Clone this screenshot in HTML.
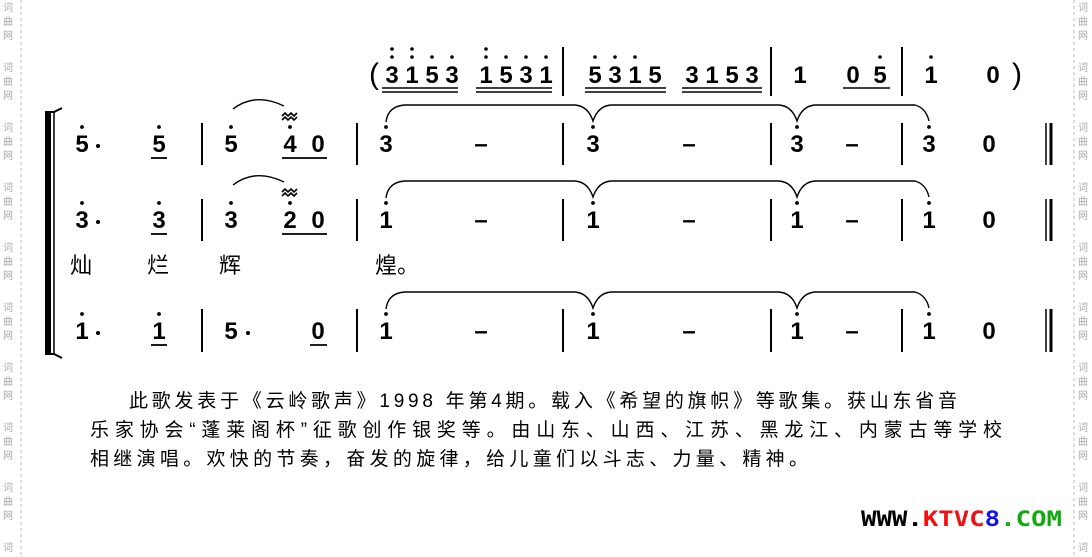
<!DOCTYPE html>
<html><head><meta charset="utf-8"><style>
html,body{margin:0;padding:0;background:#fff;}
svg{display:block;}
.n{font-family:"Liberation Sans",sans-serif;font-weight:bold;font-size:24px;fill:#000;text-anchor:middle;}
.w{font-family:"Liberation Sans","Noto Sans CJK SC",sans-serif;font-size:10px;fill:#aaa;text-anchor:middle;}
.l{font-family:"Liberation Sans","Noto Sans CJK SC",sans-serif;font-size:22px;fill:#000;}
.p{font-family:"Liberation Sans","Noto Sans CJK SC",sans-serif;font-size:19px;fill:#000;}
</style></head><body>
<svg width="1092" height="557" viewBox="0 0 1092 557" xmlns="http://www.w3.org/2000/svg">
<line x1="21" y1="0" x2="21" y2="557" stroke="#bbb" stroke-dasharray="3,3"/>
<line x1="1074" y1="0" x2="1074" y2="557" stroke="#bbb" stroke-dasharray="3,3"/>
<g class="w">
<text x="8" y="11">词</text><text x="8" y="25">曲</text><text x="8" y="39">网</text>
<text x="8" y="71">词</text><text x="8" y="85">曲</text><text x="8" y="99">网</text>
<text x="8" y="131">词</text><text x="8" y="145">曲</text><text x="8" y="159">网</text>
<text x="8" y="191">词</text><text x="8" y="205">曲</text><text x="8" y="219">网</text>
<text x="8" y="251">词</text><text x="8" y="265">曲</text><text x="8" y="279">网</text>
<text x="8" y="311">词</text><text x="8" y="325">曲</text><text x="8" y="339">网</text>
<text x="8" y="371">词</text><text x="8" y="385">曲</text><text x="8" y="399">网</text>
<text x="8" y="431">词</text><text x="8" y="445">曲</text><text x="8" y="459">网</text>
<text x="8" y="491">词</text><text x="8" y="505">曲</text><text x="8" y="519">网</text>
<text x="8" y="551">词</text>
<text x="1083" y="11">词</text><text x="1083" y="25">曲</text><text x="1083" y="39">网</text>
<text x="1083" y="71">词</text><text x="1083" y="85">曲</text><text x="1083" y="99">网</text>
<text x="1083" y="131">词</text><text x="1083" y="145">曲</text><text x="1083" y="159">网</text>
<text x="1083" y="191">词</text><text x="1083" y="205">曲</text><text x="1083" y="219">网</text>
<text x="1083" y="251">词</text><text x="1083" y="265">曲</text><text x="1083" y="279">网</text>
<text x="1083" y="311">词</text><text x="1083" y="325">曲</text><text x="1083" y="339">网</text>
<text x="1083" y="371">词</text><text x="1083" y="385">曲</text><text x="1083" y="399">网</text>
<text x="1083" y="431">词</text><text x="1083" y="445">曲</text><text x="1083" y="459">网</text>
<text x="1083" y="491">词</text><text x="1083" y="505">曲</text><text x="1083" y="519">网</text>
<text x="1083" y="551">词</text>
</g>

<rect x="45" y="112" width="6" height="242" fill="#000"/>
<line x1="54" y1="112" x2="54" y2="354" stroke="#000" stroke-width="1.5"/>
<path d="M45 112 L54 112 L62 108" stroke="#000" stroke-width="2" fill="none"/>
<path d="M45 354 L54 354 L62 358" stroke="#000" stroke-width="2" fill="none"/>

<g class="n">
<text x="374" y="84" style="font-weight:normal;font-size:30px">(</text>
<text x="392" y="83">3</text><text x="412" y="83">1</text><text x="432" y="83">5</text><text x="452" y="83">3</text>
<text x="486" y="83">1</text><text x="506" y="83">5</text><text x="526" y="83">3</text><text x="546" y="83">1</text>
<text x="595" y="83">5</text><text x="615" y="83">3</text><text x="635" y="83">1</text><text x="655" y="83">5</text>
<text x="692" y="83">3</text><text x="712" y="83">1</text><text x="732" y="83">5</text><text x="752" y="83">3</text>
<text x="800" y="83">1</text>
<text x="853" y="83">0</text><text x="880" y="83">5</text>
<text x="931" y="83">1</text><text x="993" y="83">0</text>
<text x="1017" y="84" style="font-weight:normal;font-size:30px">)</text>
</g>
<g fill="#000">
<circle cx="392" cy="49" r="1.8"/><circle cx="392" cy="57" r="1.8"/>
<circle cx="412" cy="49" r="1.8"/><circle cx="412" cy="57" r="1.8"/>
<circle cx="432" cy="57" r="1.8"/><circle cx="452" cy="57" r="1.8"/>
<circle cx="486" cy="49" r="1.8"/><circle cx="486" cy="57" r="1.8"/>
<circle cx="506" cy="57" r="1.8"/><circle cx="526" cy="57" r="1.8"/><circle cx="546" cy="57" r="1.8"/>
<circle cx="595" cy="57" r="1.8"/><circle cx="615" cy="57" r="1.8"/><circle cx="635" cy="57" r="1.8"/>
<circle cx="880" cy="57" r="1.8"/><circle cx="931" cy="57" r="1.8"/>
</g>
<g stroke="#000" stroke-width="1.5">
<line x1="382" y1="88" x2="458" y2="88"/><line x1="382" y1="92" x2="458" y2="92"/>
<line x1="476" y1="88" x2="552" y2="88"/><line x1="476" y1="92" x2="552" y2="92"/>
<line x1="585" y1="88" x2="666" y2="88"/><line x1="585" y1="92" x2="666" y2="92"/>
<line x1="682" y1="88" x2="762" y2="88"/><line x1="682" y1="92" x2="762" y2="92"/>
<line x1="843" y1="88" x2="890" y2="88"/>
<line x1="563" y1="47" x2="563" y2="96" stroke-width="2"/>
<line x1="771" y1="47" x2="771" y2="96" stroke-width="2"/>
<line x1="902" y1="47" x2="902" y2="96" stroke-width="2"/>
</g>

<g class="n">
<text x="82" y="152">5</text><text x="159" y="152">5</text><text x="231" y="152">5</text>
<text x="290" y="152">4</text><text x="318" y="152">0</text>
<text x="386" y="152">3</text><text x="481" y="152">–</text><text x="593" y="152">3</text><text x="689" y="152">–</text>
<text x="797" y="152">3</text><text x="852" y="152">–</text><text x="929" y="152">3</text><text x="989" y="152">0</text>
<text x="82" y="228">3</text><text x="159" y="228">3</text><text x="231" y="228">3</text>
<text x="290" y="228">2</text><text x="318" y="228">0</text>
<text x="386" y="228">1</text><text x="481" y="228">–</text><text x="593" y="228">1</text><text x="689" y="228">–</text>
<text x="797" y="228">1</text><text x="852" y="228">–</text><text x="929" y="228">1</text><text x="989" y="228">0</text>
<text x="82" y="339">1</text><text x="159" y="339">1</text><text x="231" y="339">5</text>
<text x="318" y="339">0</text>
<text x="386" y="339">1</text><text x="481" y="339">–</text><text x="593" y="339">1</text><text x="689" y="339">–</text>
<text x="797" y="339">1</text><text x="852" y="339">–</text><text x="929" y="339">1</text><text x="989" y="339">0</text>
</g>
<g fill="#000">
<circle cx="98" cy="146" r="2"/><circle cx="98" cy="222" r="2"/><circle cx="98" cy="333" r="2"/><circle cx="248" cy="333" r="2"/>
<circle cx="82" cy="127" r="1.9"/><circle cx="159" cy="127" r="1.9"/><circle cx="231" cy="127" r="1.9"/><circle cx="290" cy="127" r="1.9"/>
<circle cx="386" cy="127" r="1.9"/><circle cx="593" cy="127" r="1.9"/><circle cx="797" cy="127" r="1.9"/><circle cx="929" cy="127" r="1.9"/>
<circle cx="82" cy="203" r="1.9"/><circle cx="159" cy="203" r="1.9"/><circle cx="231" cy="203" r="1.9"/><circle cx="290" cy="203" r="1.9"/>
<circle cx="386" cy="203" r="1.9"/><circle cx="593" cy="203" r="1.9"/><circle cx="797" cy="203" r="1.9"/><circle cx="929" cy="203" r="1.9"/>
<circle cx="82" cy="314" r="1.9"/><circle cx="159" cy="314" r="1.9"/>
<circle cx="386" cy="314" r="1.9"/><circle cx="593" cy="314" r="1.9"/><circle cx="797" cy="314" r="1.9"/><circle cx="929" cy="314" r="1.9"/>
</g>
<g stroke="#000" stroke-width="1.8" fill="none">
<line x1="151" y1="158" x2="167" y2="158"/><line x1="282" y1="158" x2="327" y2="158"/>
<line x1="151" y1="234" x2="167" y2="234"/><line x1="282" y1="234" x2="327" y2="234"/>
<line x1="151" y1="345" x2="167" y2="345"/><line x1="310" y1="345" x2="327" y2="345"/>
<g stroke-width="2">
<line x1="202" y1="123" x2="202" y2="165"/><line x1="357" y1="123" x2="357" y2="165"/><line x1="563" y1="123" x2="563" y2="165"/><line x1="771" y1="123" x2="771" y2="165"/><line x1="902" y1="123" x2="902" y2="165"/>
<line x1="202" y1="199" x2="202" y2="241"/><line x1="357" y1="199" x2="357" y2="241"/><line x1="563" y1="199" x2="563" y2="241"/><line x1="771" y1="199" x2="771" y2="241"/><line x1="902" y1="199" x2="902" y2="241"/>
<line x1="202" y1="309" x2="202" y2="352"/><line x1="357" y1="309" x2="357" y2="352"/><line x1="563" y1="309" x2="563" y2="352"/><line x1="771" y1="309" x2="771" y2="352"/><line x1="902" y1="309" x2="902" y2="352"/>
</g>
<line x1="1046" y1="123" x2="1046" y2="165" stroke-width="1.5"/><line x1="1051" y1="123" x2="1051" y2="165" stroke-width="3"/>
<line x1="1046" y1="199" x2="1046" y2="241" stroke-width="1.5"/><line x1="1051" y1="199" x2="1051" y2="241" stroke-width="3"/>
<line x1="1046" y1="309" x2="1046" y2="352" stroke-width="1.5"/><line x1="1051" y1="309" x2="1051" y2="352" stroke-width="3"/>
<g stroke-width="1.4">
<path d="M233 109 Q255 92 284 106"/>
<path d="M233 185 Q255 168 284 182"/>
<path d="M386 122 Q388 106 405 105 L575 105 Q588 106 593 121 Q598 106 611 105 L779 105 Q792 106 797 121 Q802 106 815 105 L915 105 Q926 108 929 121"/>
<path d="M386 198 Q388 182 405 181 L575 181 Q588 182 593 197 Q598 182 611 181 L779 181 Q792 182 797 197 Q802 182 815 181 L915 181 Q926 184 929 197"/>
<path d="M386 309 Q388 293 405 292 L575 292 Q588 293 593 308 Q598 293 611 292 L779 292 Q792 293 797 308 Q802 293 815 292 L915 292 Q926 295 929 308"/>
</g>
<path d="M282 120 l3 -3 l3 3 l3 -3 l3 3 l3 -3 M282 116 l3 -3 l3 3 l3 -3 l3 3 l3 -3" stroke-width="1.6"/>
<path d="M282 196 l3 -3 l3 3 l3 -3 l3 3 l3 -3 M282 192 l3 -3 l3 3 l3 -3 l3 3 l3 -3" stroke-width="1.6"/>
</g>

<g class="l">
<text x="70" y="273">灿</text><text x="147" y="273">烂</text><text x="219" y="273">辉</text><text x="375" y="273">煌。</text>
</g>

<g class="p">
<text x="129" y="407" textLength="828" lengthAdjust="spacing">此歌发表于《云岭歌声》1998 年第4期。载入《希望的旗帜》等歌集。获山东省音</text>
<text x="90" y="436" textLength="912" lengthAdjust="spacing">乐家协会“蓬莱阁杯”征歌创作银奖等。由山东、山西、江苏、黑龙江、内蒙古等学校</text>
<text x="90" y="465" textLength="718" lengthAdjust="spacing">相继演唱。欢快的节奏，奋发的旋律，给儿童们以斗志、力量、精神。</text>
</g>

<text x="861" y="526" textLength="201" lengthAdjust="spacingAndGlyphs" style="font-family:'DejaVu Sans Mono','Liberation Mono',monospace;font-size:21px;font-weight:bold"><tspan fill="#000">WWW.</tspan><tspan fill="#e11">KTVC</tspan><tspan fill="#11e">8</tspan><tspan fill="#1a1">.COM</tspan></text>
</svg>
</body></html>
